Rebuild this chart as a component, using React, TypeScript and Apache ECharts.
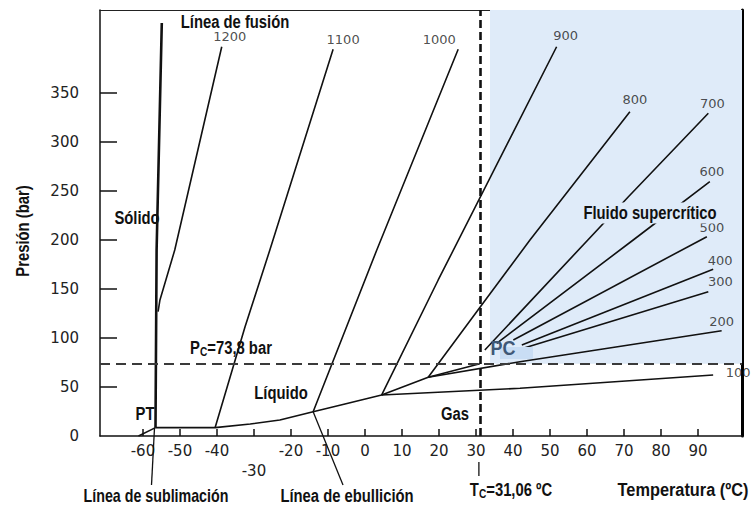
import React, { useEffect, useRef } from "react";
import * as echarts from "echarts";

// Critical point of CO2
const TC = 31.06;
const PC = 73.8;

// Axis ranges (°C, bar)
const T_MIN = -71.6;
const T_MAX = 101.9;
const P_MAX = 434.7;

// Tick values
const tempTicks = [-60, -50, -40, -30, -20, -10, 0, 10, 20, 30, 40, 50, 60, 70, 80, 90];
const tempLabels = [-60, -50, -40, -30, -20, -10, 0, 10, 20, 30, 40, 50, 60, 70, 80, 90];
const pressureTicks = [50, 100, 150, 200, 250, 300, 350];
const pressureLabels = [0, 50, 100, 150, 200, 250, 300, 350];

// Phase boundaries [T °C, p bar]
const sublimation = [[-61.2, 0], [-56.6, 8.5]];
const fusion = [[-56.6, 8.5], [-56.3, 190], [-54.9, 421.4]];
const boiling = [
  [-56.6, 8.5], [-40.5, 8.5], [-31, 12.2], [-23, 16.3], [-14, 24.8],
  [-5.4, 32.7], [4.5, 41.8], [17.1, 59.9], [TC, PC],
];

// Isochores (density, kg/m3)
const densities = [1200, 1100, 1000, 900, 800, 700, 600, 500, 400, 300, 200, 100];
const iso1200 = [[-55.9, 126.8], [-55.4, 138.8], [-51.4, 189.8], [-38.7, 397.2]];
const iso1100 = [[-40.5, 8.5], [-32.4, 111.5], [-25.7, 189.8], [-8.6, 394.6]];
const iso1000 = [[-14.0, 24.8], [3.2, 189.8], [25.2, 394.6]];
const iso900 = [[4.5, 41.8], [19.8, 159.2], [51.8, 397.2]];
const iso800 = [[17.1, 59.9], [30.2, 126.8], [44.6, 200], [71.6, 330.9]];
const iso700 = [[32.4, 87.8], [71.2, 244.2], [92.8, 329.3]];
const iso600 = [[35.6, 94.6], [72.5, 200], [93.2, 259.5]];
const iso500 = [[40.1, 98], [92.4, 203.4]];
const iso400 = [[42.4, 92.9], [94.1, 170.1]];
const iso300 = [[42.8, 89.5], [92.8, 147.2]];
const iso200 = [[17.1, 59.9], [41.9, 75.8], [96.4, 107.4]];
const iso100 = [[4.5, 41.8], [41.9, 48.7], [94.1, 62.2]];
const isochores = [iso1200, iso1100, iso1000, iso900, iso800, iso700, iso600, iso500, iso400, iso300, iso200, iso100];

// Offsets of the density labels from the end of each isochore (px)
const isoLabelOffsets = [
  [8, -10], [10, -10], [-19, -10], [9, -11], [5, -12], [4, -10],
  [2, -10], [5, -9], [7, -9], [12, -10], [0, -9], [25, -3],
];

// Supercritical region starts just right of TC
const supercriticalStart = 33.8;

const BOLD_FONT = "'Liberation Sans', Arial, sans-serif";
const TICK_FONT = "'DejaVu Sans', Verdana, sans-serif";
const INK = "#111";
const CONDENSE = 0.78;

function lineSeries(name: string, data: number[][], width: number, z = 3) {
  return {
    type: "line",
    name,
    data,
    showSymbol: false,
    symbol: "none",
    silent: true,
    z,
    lineStyle: { color: INK, width },
  };
}

// Condensed bold annotation text
function label(text: string, x: number, y: number, extra: any = {}, scaleX = CONDENSE, rotation = 0) {
  return {
    type: "text",
    x,
    y,
    scaleX,
    rotation,
    z: 100,
    silent: true,
    style: {
      text,
      fontFamily: BOLD_FONT,
      fontWeight: "bold",
      fontSize: 19,
      fill: INK,
      align: "center",
      verticalAlign: "middle",
      ...extra,
    },
  };
}

const subRich = {
  s: {
    fontFamily: BOLD_FONT,
    fontWeight: "bold",
    fontSize: 13,
    fill: INK,
    verticalAlign: "bottom",
  },
};

export default function App() {
  const ref = useRef<HTMLDivElement>(null);

  useEffect(() => {
    if (!ref.current) return;
    const chart = echarts.init(ref.current, undefined, { renderer: "svg" });

    const option: any = {
      animation: false,
      backgroundColor: "#fff",
      grid: { left: 100, right: 11, top: 10, bottom: 72 },
      xAxis: [
        {
          type: "value",
          min: T_MIN,
          max: T_MAX,
          splitLine: { show: false },
          axisLine: { show: true, onZero: false, lineStyle: { color: INK, width: 1.5 } },
          axisTick: {
            show: true,
            inside: true,
            length: 7,
            customValues: tempTicks,
            lineStyle: { color: INK, width: 1.5 },
          },
          axisLabel: {
            customValues: tempLabels,
            formatter: (v: number) => (v === -30 ? "\n-30" : String(v)),
            fontFamily: TICK_FONT,
            fontSize: 15,
            color: "#222",
            margin: 5,
            lineHeight: 20,
          },
        },
        {
          type: "value",
          position: "top",
          min: T_MIN,
          max: T_MAX,
          splitLine: { show: false },
          axisLine: { show: true, onZero: false, lineStyle: { color: "#222", width: 1.2 } },
          axisTick: { show: false },
          axisLabel: { show: false },
        },
      ],
      yAxis: [
        {
          type: "value",
          min: 0,
          max: P_MAX,
          splitLine: { show: false },
          axisLine: { show: true, onZero: false, lineStyle: { color: INK, width: 1.5 } },
          axisTick: {
            show: true,
            inside: true,
            length: 17,
            customValues: pressureTicks,
            lineStyle: { color: INK, width: 1.5 },
          },
          axisLabel: {
            customValues: pressureLabels,
            fontFamily: TICK_FONT,
            fontSize: 15,
            color: "#222",
            margin: 21,
          },
        },
        {
          type: "value",
          position: "right",
          min: 0,
          max: P_MAX,
          splitLine: { show: false },
          axisLine: { show: true, onZero: false, lineStyle: { color: "#000", width: 3 } },
          axisTick: { show: false },
          axisLabel: { show: false },
        },
      ],
      series: [
        {
          ...lineSeries("Línea de sublimación", sublimation, 1.5, 1),
          markArea: {
            silent: true,
            itemStyle: { color: "#dfebf9" },
            data: [[{ xAxis: supercriticalStart, yAxis: PC }, { xAxis: T_MAX, yAxis: P_MAX }]],
          },
        },
        {
          ...lineSeries("Línea de fusión", fusion, 2.6, 4),
          markLine: {
            silent: true,
            symbol: ["none", "none"],
            label: { show: false },
            data: [
              { xAxis: TC, lineStyle: { type: [8, 4], width: 2.6, color: INK } },
              { yAxis: PC, lineStyle: { type: [10, 6], width: 1.8, color: "#3a3a3a" } },
            ],
          },
        },
        lineSeries("Línea de ebullición", boiling, 1.6),
        ...isochores.map((d, i) => lineSeries(String(densities[i]), d, 1.6)),
        {
          type: "scatter",
          name: "densidad",
          silent: true,
          z: 5,
          symbolSize: 1,
          itemStyle: { color: "rgba(0,0,0,0)" },
          label: {
            show: true,
            position: "inside",
            formatter: "{b}",
            fontFamily: TICK_FONT,
            fontSize: 13,
            color: "#222",
          },
          data: isochores.map((d, i) => ({
            name: String(densities[i]),
            value: d[d.length - 1],
            label: { offset: isoLabelOffsets[i] },
          })),
        },
      ],
    };

    chart.setOption(option);

    const px = (p: number[]) => chart.convertToPixel({ xAxisIndex: 0, yAxisIndex: 0 }, p) as number[];
    const pt = px(boiling[0]);
    const ebu = px(boiling[4]);
    const tc = px([TC, 0]);

    chart.setOption({
      graphic: [
        {
          type: "rect",
          z: 90,
          silent: true,
          shape: { x: 500, y: 347, width: 33, height: 12 },
          style: { fill: "#c9ddf4" },
        },
        label("Presión (bar)", 23, 231, {}, CONDENSE, Math.PI / 2),
        label("Línea de fusión", 235, 22),
        label("Sólido", 137, 218),
        label("Líquido", 281, 393),
        label("PT", 145, 414),
        label("Gas", 455, 414),
        label("PC", 503, 348, { fontSize: 20, fill: "#3f5877" }, 0.9),
        label("Fluido supercrítico", 650, 213, { backgroundColor: "#dfebf9", padding: [1, 2] }),
        label("P{s|C}=73,8 bar", 231, 348, { rich: subRich }),
        label("Línea de sublimación", 156, 496, {}, 0.75),
        label("Línea de ebullición", 347, 496),
        label("T{s|C}=31,06 ºC", 511, 490, { rich: subRich }),
        label("Temperatura (ºC)", 683, 490, {}, 0.86),
        {
          type: "line",
          silent: true,
          z: 100,
          shape: { x1: pt[0] - 1, y1: pt[1], x2: pt[0] - 4, y2: 485 },
          style: { stroke: INK, lineWidth: 1.3 },
        },
        {
          type: "line",
          silent: true,
          z: 100,
          shape: { x1: ebu[0], y1: ebu[1], x2: 343, y2: 485 },
          style: { stroke: INK, lineWidth: 1.3 },
        },
        {
          type: "line",
          silent: true,
          z: 100,
          shape: { x1: tc[0] - 1, y1: 462, x2: tc[0] - 1, y2: 476 },
          style: { stroke: "#333", lineWidth: 1.5 },
        },
      ],
    });

    return () => chart.dispose();
  }, []);

  return <div ref={ref} style={{ width: 753, height: 508, position: "absolute", left: 0, top: 0 }} />;
}
